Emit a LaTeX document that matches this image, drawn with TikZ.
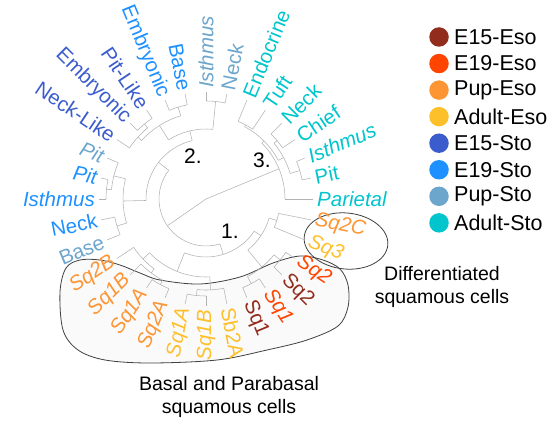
\documentclass[tikz,border=0pt]{standalone}
\usepackage{fontspec}
\setmainfont{Liberation Sans}

% sample colours
\definecolor{eEso}{HTML}{922C1D}
\definecolor{nEso}{HTML}{FF4500}
\definecolor{pEso}{HTML}{FD9535}
\definecolor{aEso}{HTML}{FEC02A}
\definecolor{eSto}{HTML}{3B5CCC}
\definecolor{nSto}{HTML}{1E90FF}
\definecolor{pSto}{HTML}{6CA6CD}
\definecolor{aSto}{HTML}{00C5CD}

\tikzset{
  treeline/.style={draw=black!30, line width=0.55pt},
  tiplab/.style={font=\fontsize{20.5}{23}\selectfont, inner sep=0pt},
  ring/.style={draw=black!75, line width=0.8pt},
  annot/.style={font=\fontsize{19.5}{23}\selectfont, align=center, inner sep=0pt},
  clusternum/.style={font=\fontsize{21}{24}\selectfont, inner sep=0pt},
  legdot/.style={circle, minimum size=19.5pt, inner sep=0pt, draw=none},
  legtxt/.style={font=\fontsize{21.5}{24}\selectfont, inner sep=0pt, anchor=west}
}

% radial branch: angle, inner radius, outer radius
\newcommand{\tbr}[3]{\draw[treeline] (#1:#2pt) -- (#1:#3pt);}
% arc joining children: start angle, end angle, radius
\newcommand{\tarc}[3]{\draw[treeline] (#1:#3pt) arc[start angle=#1, end angle=#2, radius=#3pt];}
% tip labels on the right and left half of the circle
\newcommand{\labR}[4]{\node[tiplab, text=#3, rotate=#2, anchor=west] (#1) at (#2:111pt) {#4};}
\newcommand{\labL}[4]{\node[tiplab, text=#3, rotate=#2-180, anchor=east] (#1) at (#2:111pt) {#4};}

\begin{document}
\begin{tikzpicture}[x=1pt, y=-1pt]
\useasboundingbox (0,0) rectangle (549,425);

% outline of the basal / parabasal group
\draw[ring, fill=black!2] plot[smooth cycle, tension=0.55] coordinates {
  (60,292) (66,268) (80,260) (100,260) (120,265) (140,273) (160,280)
  (200,284) (240,277) (273,263) (300,256) (323,260) (340,269) (348,285)
  (348,307) (338,326) (307,340) (267,350) (217,360) (150,363) (105,360)
  (78,350) (63,330)};
% outline of the differentiated group
\draw[ring] (346,241) ellipse [x radius=42pt, y radius=28pt, rotate=-6];

\begin{scope}[shift={(206,199)}]
  % ---- adult stomach clade
  \tarc{11.25}{22.5}{98} \tbr{11.25}{98}{107} \tbr{22.5}{98}{107}
  \tarc{33.75}{45}{92} \tbr{33.75}{92}{107} \tbr{45}{92}{107}
  \tarc{16.875}{39.375}{88} \tbr{16.875}{88}{98} \tbr{39.375}{88}{92}
  \tarc{56.25}{67.5}{84} \tbr{56.25}{84}{107} \tbr{67.5}{84}{107}
  \tarc{28.125}{61.875}{82} \tbr{28.125}{82}{88} \tbr{61.875}{82}{84}
  \tarc{0}{45}{79} \tbr{0}{79}{107} \tbr{45}{79}{82}
  \tbr{22.5}{0}{79}
  % ---- embryonic and pup stomach clade
  \tarc{78.75}{90}{98} \tbr{78.75}{98}{107} \tbr{90}{98}{107}
  \tarc{101.25}{112.5}{96} \tbr{101.25}{96}{107} \tbr{112.5}{96}{107}
  \tarc{123.75}{135}{97} \tbr{123.75}{97}{107} \tbr{135}{97}{107}
  \tarc{129.375}{146.25}{92} \tbr{129.375}{92}{97} \tbr{146.25}{92}{107}
  \tarc{106.875}{137.8125}{87} \tbr{106.875}{87}{96} \tbr{137.8125}{87}{92}
  \tarc{84.375}{122.34375}{70} \tbr{84.375}{70}{98} \tbr{122.34375}{70}{87}
  \tarc{168.75}{180}{100} \tbr{168.75}{100}{107} \tbr{180}{100}{107}
  \tarc{157.5}{174.375}{95} \tbr{157.5}{95}{107} \tbr{174.375}{95}{100}
  \tarc{191.25}{202.5}{93} \tbr{191.25}{93}{107} \tbr{202.5}{93}{107}
  \tarc{165.9375}{196.875}{83} \tbr{165.9375}{83}{95} \tbr{196.875}{83}{93}
  \tarc{103.359375}{181.40625}{60} \tbr{103.359375}{60}{70} \tbr{181.40625}{60}{83}
  % ---- oesophagus clade
  \tarc{236.25}{247.5}{97} \tbr{236.25}{97}{107} \tbr{247.5}{97}{107}
  \tarc{225}{241.875}{92} \tbr{225}{92}{107} \tbr{241.875}{92}{97}
  \tarc{213.75}{233.4375}{87} \tbr{213.75}{87}{107} \tbr{233.4375}{87}{92}
  \tarc{258.75}{270}{97} \tbr{258.75}{97}{107} \tbr{270}{97}{107}
  \tarc{264.375}{281.25}{91} \tbr{264.375}{91}{97} \tbr{281.25}{91}{107}
  \tarc{223.59375}{272.8125}{78} \tbr{223.59375}{78}{87} \tbr{272.8125}{78}{91}
  \tarc{292.5}{303.75}{96} \tbr{292.5}{96}{107} \tbr{303.75}{96}{107}
  \tarc{315}{326.25}{96} \tbr{315}{96}{107} \tbr{326.25}{96}{107}
  \tarc{298.125}{320.625}{88} \tbr{298.125}{88}{96} \tbr{320.625}{88}{96}
  \tarc{337.5}{348.75}{74} \tbr{337.5}{74}{107} \tbr{348.75}{74}{107}
  \tarc{309.375}{343.125}{66} \tbr{309.375}{66}{88} \tbr{343.125}{66}{74}
  \tarc{248.203125}{326.25}{58} \tbr{248.203125}{58}{78} \tbr{326.25}{58}{66}
  % ---- join of oesophagus and young stomach
  \tarc{142.3828}{287.2266}{47} \tbr{142.3828}{47}{60} \tbr{287.2266}{47}{58}
  \tbr{214.8}{0}{47}

  % ---- tip labels
  \labR{t0}{0}{aSto}{\itshape Parietal}
  \labR{t1}{11.25}{aSto}{Pit}
  \labR{t2}{22.5}{aSto}{\itshape Isthmus}
  \labR{t3}{33.75}{aSto}{Chief}
  \labR{t4}{45}{aSto}{Neck}
  \labR{t5}{56.25}{aSto}{Tuft}
  \labR{t6}{67.5}{aSto}{Endocrine}
  \labR{t7}{78.75}{pSto}{Neck}
  \labR{t8}{90}{pSto}{\itshape Isthmus}
  \labL{t9}{101.25}{nSto}{Base}
  \labL{t10}{112.5}{nSto}{Embryonic}
  \labL{t11}{123.75}{eSto}{Pit-Like}
  \labL{t12}{135}{eSto}{Embryonic}
  \labL{t13}{146.25}{eSto}{Neck-Like}
  \labL{t14}{157.5}{pSto}{\itshape Pit}
  \labL{t15}{168.75}{nSto}{\itshape Pit}
  \labL{t16}{180}{nSto}{\itshape Isthmus}
  \labL{t17}{191.25}{nSto}{Neck}
  \labL{t18}{202.5}{pSto}{Base}
  \labL{t19}{213.75}{pEso}{\itshape Sq2B}
  \labL{t20}{225}{pEso}{\itshape Sq1B}
  \labL{t21}{236.25}{pEso}{\itshape Sq1A}
  \labL{t22}{247.5}{pEso}{\itshape Sq2A}
  \labL{t23}{258.75}{aEso}{\itshape Sq1A}
  \labL{t24}{270}{aEso}{\itshape Sq1B}
  \labR{t25}{281.25}{aEso}{Sb2A}
  \labR{t26}{292.5}{eEso}{Sq1}
  \labR{t27}{303.75}{nEso}{\itshape Sq1}
  \labR{t28}{315}{eEso}{Sq2}
  \labR{t29}{326.25}{nEso}{\itshape Sq2}
  \labR{t30}{337.5}{aEso}{\itshape Sq3}
  \labR{t31}{348.75}{pEso}{\itshape Sq2C}
\end{scope}

% cluster numbers
\node[clusternum] (c1) at (230,231) {1.};
\node[clusternum] (c2) at (193,156) {2.};
\node[clusternum] (c3) at (262,160) {3.};

% group captions
\node[annot] (capdiff) at (442,287) {Differentiated\\squamous cells};
\node[annot] (capbasal) at (229,397) {Basal and Parabasal\\squamous cells};

% legend
\foreach \c/\t [count=\i from 0] in {eEso/E15-Eso, nEso/E19-Eso, pEso/Pup-Eso, aEso/Adult-Eso,
    eSto/E15-Sto, nSto/E19-Sto, pSto/Pup-Sto, aSto/Adult-Sto} {
  \node[legdot, fill=\c] (dot\i) at (439,37+26.55*\i) {};
  \node[legtxt] (leg\i) at (454,37+26.55*\i) {\t};
}
\end{tikzpicture}
\end{document}
